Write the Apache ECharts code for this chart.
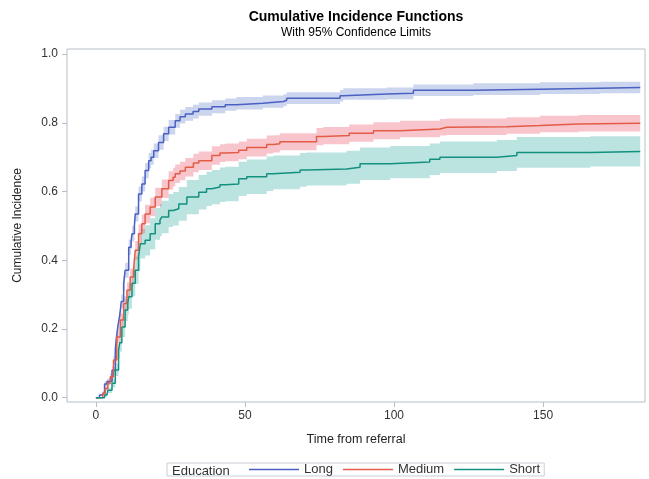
<!DOCTYPE html>
<html>
<head>
<meta charset="utf-8">
<script src="https://cdn.jsdelivr.net/npm/echarts@6/dist/echarts.min.js"></script>
<style>
  html, body { margin:0; padding:0; background:#fff; }
  #chart { width:649px; height:479px; }
</style>
</head>
<body>
<div id="chart"></div>
<script>
// ====== Cumulative incidence by education ======

// ---- Long ----
const T_LONG  = [0, 1.2, 2.0, 2.9, 3.7, 5.4, 6.5, 6.8, 7.4, 7.9, 8.2, 8.5, 9.3, 9.8, 11.0, 11.8, 12.1, 12.9, 13.2, 14.3,
                 15.4, 16.5, 17.7, 18.5, 19.4, 21.0, 22.7, 24.4, 26.6, 28.2, 30.0, 32.6, 34.5, 38.9, 43.4, 47.2, 56, 62.9, 64, 81.9,
                 83, 97.6, 106.5, 126.6, 149, 169, 182.6];
const V_LONG  = [0, .008, .013, .04, .047, .08, .139, .17, .21, .235, .255, .28, .332, .371, .438, .455, .477, .50, .535, .593,
                 .622, .661, .69, .70, .719, .743, .768, .787, .806, .818, .826, .833, .84, .847, .853, .857, .862, .866, .872, .879,
                 .884, .886, .895, .898, .901, .903, .905];
const LO_LONG = [0, .005, .009, .033, .039, .069, .125, .155, .193, .217, .236, .26, .311, .349, .416, .433, .455, .478, .513, .571,
                 .60, .639, .668, .678, .698, .722, .747, .766, .786, .798, .806, .813, .821, .828, .835, .839, .844, .849, .855, .862,
                 .867, .869, .878, .881, .884, .886, .888];
const HI_LONG = [0, .011, .017, .047, .055, .091, .153, .185, .227, .253, .274, .30, .353, .393, .46, .477, .499, .522, .557, .615,
                 .644, .683, .712, .722, .74, .764, .789, .808, .826, .838, .846, .853, .859, .866, .871, .875, .88, .883, .889, .896,
                 .901, .903, .912, .915, .918, .92, .922];

// ---- Medium ----
const T_MED  = [0, 2.3, 3.1, 4.0, 4.8, 5.9, 7.0, 8.2, 9.3, 10.4, 11.5, 12.7, 13.2, 14.3, 15.4, 16.5, 18.2, 19.9, 22.1, 24.4,
                25.9, 26.6, 28.2, 30.0, 32.7, 34.5, 38.9, 41.6, 43.4, 47.9, 50.6, 57.3, 59.5, 61.7, 74, 76.3, 85, 93.1, 102, 115.4,
                117.7, 137.8, 149, 162, 182.6];
const V_MED  = [0, .013, .027, .043, .061, .11, .177, .226, .274, .313, .351, .38, .429, .477, .506, .535, .555, .584, .608, .632,
                .642, .652, .66, .671, .683, .69, .705, .712, .714, .72, .728, .737, .739, .745, .76, .763, .77, .777, .782, .787,
                .789, .792, .797, .799, .80];
const LO_MED = [0, .008, .021, .035, .051, .097, .161, .207, .253, .29, .326, .354, .402, .45, .479, .508, .528, .557, .581, .605,
                .615, .625, .633, .644, .656, .663, .678, .686, .688, .694, .702, .711, .714, .72, .735, .738, .745, .752, .758, .763,
                .765, .768, .773, .775, .776];
const HI_MED = [0, .018, .033, .051, .071, .123, .193, .245, .295, .336, .376, .406, .456, .504, .533, .562, .582, .611, .635, .659,
                .669, .679, .687, .698, .71, .717, .732, .738, .74, .746, .754, .763, .764, .77, .785, .788, .795, .802, .806, .811,
                .813, .816, .821, .823, .824];

// ---- Short ----
const T_SHORT  = [0, 2.9, 3.7, 4.0, 5.4, 6.5, 7.6, 8.0, 8.7, 9.8, 10.7, 11.0, 12.1, 13.2, 14.3, 14.9, 16.5, 18.2, 19.9, 21.5,
                  22.1, 24.4, 25.9, 27.8, 30.5, 34.5, 37.1, 38.9, 41.6, 43.4, 47.9, 50.6, 57.3, 59.5, 68.5, 70.7, 84.1, 88.6, 98.7, 112,
                  115.4, 134.5, 141.2, 165.8, 182.6];
const V_SHORT  = [0, .008, .013, .022, .042, .081, .139, .16, .206, .255, .275, .294, .333, .371, .41, .448, .458, .477, .506, .517,
                  .526, .545, .55, .564, .584, .598, .608, .613, .62, .622, .637, .643, .652, .656, .663, .666, .671, .681, .686, .694,
                  .70, .705, .714, .717, .719];
const LO_SHORT = [0, .003, .007, .014, .03, .063, .115, .134, .177, .223, .241, .259, .295, .331, .368, .405, .414, .432, .46, .47,
                  .479, .497, .501, .515, .534, .548, .558, .563, .57, .572, .587, .593, .602, .607, .614, .618, .623, .634, .639, .648,
                  .654, .66, .669, .673, .675];
const HI_SHORT = [0, .013, .019, .03, .054, .099, .163, .186, .235, .287, .309, .329, .371, .411, .452, .491, .502, .522, .552, .564,
                  .573, .593, .599, .613, .634, .648, .658, .663, .67, .672, .687, .693, .702, .705, .712, .714, .719, .728, .733, .74,
                  .746, .75, .759, .761, .763];

const X_TICKS = [0, 50, 100, 150];
const Y_TICKS = [0, 0.2, 0.4, 0.6, 0.8, 1.0];

const FONT = 'Liberation Sans, Arial, sans-serif';
const FRAME = '#b7c0c9';

// ---- 信賴帶：一個階梯多邊形 ----
function bandSeries(name, t, lo, hi, color){
  return {
    type:'custom', name, z:1, silent:true,
    data: t.map((x,i) => [x, lo[i], hi[i]]),
    encode:{ x:0, y:[1,2] },
    renderItem(params, api){
      if(params.dataIndex !== 0) return null;
      const pts = [];
      for(let i=0;i<t.length;i++){
        pts.push(api.coord([t[i], hi[i]]));
        if(i < t.length-1) pts.push(api.coord([t[i+1], hi[i]]));
      }
      for(let i=t.length-1;i>=0;i--){
        if(i < t.length-1) pts.push(api.coord([t[i+1], lo[i]]));
        pts.push(api.coord([t[i], lo[i]]));
      }
      return { type:'polygon', shape:{ points:pts }, style:{ fill:color } };
    }
  };
}

function lineSeries(name, t, v, color){
  return {
    type:'line', name, z:3, step:'end', showSymbol:false, symbol:'none',
    data: t.map((x,i) => [x, v[i]]),
    lineStyle:{ width:1.5, color },
    itemStyle:{ color }
  };
}

const chart = echarts.init(document.getElementById('chart'));
chart.setOption({
  animation:false,
  backgroundColor:'#fff',
  textStyle:{ fontFamily:FONT },
  grid:{ left:67, right:4, top:49, bottom:77, show:true, borderColor:FRAME, borderWidth:1, backgroundColor:'transparent' },
  xAxis:{
    type:'value', min:-9.7, max:184.2,
    name:'Time from referral', nameLocation:'middle', nameGap:31,
    nameTextStyle:{ fontSize:12.5, color:'#222', fontFamily:FONT },
    axisLine:{ show:false, onZero:false },
    axisTick:{ show:true, customValues:X_TICKS, length:5, lineStyle:{ color:FRAME } },
    axisLabel:{ customValues:X_TICKS, fontSize:12, color:'#333', margin:8, fontFamily:FONT },
    splitLine:{ show:false }
  },
  yAxis:{
    type:'value', min:-0.0125, max:1.015,
    name:'Cumulative Incidence', nameLocation:'middle', nameGap:43, nameRotate:90,
    nameTextStyle:{ fontSize:12, color:'#222', fontFamily:FONT },
    axisLine:{ show:false, onZero:false },
    axisTick:{ show:true, customValues:Y_TICKS, length:5, lineStyle:{ color:FRAME } },
    axisLabel:{ customValues:Y_TICKS, fontSize:12, color:'#333', margin:9, fontFamily:FONT,
      formatter: v => v.toFixed(1) },
    splitLine:{ show:false }
  },
  legend:{
    data:['Long','Medium','Short'],
    left:167, top:463,
    padding:[0, 4, 0, 82],
    borderColor:'#c9ced4', borderWidth:1,
    icon:'rect', itemWidth:50, itemHeight:1.5, itemGap:10,
    selectedMode:false,
    textStyle:{ fontSize:13, color:'#333', fontFamily:FONT }
  },
  graphic:[
    { type:'text', x:356, y:17, style:{ text:'Cumulative Incidence Functions', font:'bold 14px '+FONT, fill:'#000', align:'center', verticalAlign:'middle' } },
    { type:'text', x:356, y:33, style:{ text:'With 95% Confidence Limits', font:'12px '+FONT, fill:'#000', align:'center', verticalAlign:'middle' } },
    { type:'text', x:172, y:471, style:{ text:'Education', font:'13px '+FONT, fill:'#333', align:'left', verticalAlign:'middle' } }
  ],
  series:[
    bandSeries('Short CL',  T_SHORT, LO_SHORT, HI_SHORT, 'rgba(60,175,165,0.35)'),
    bandSeries('Medium CL', T_MED,   LO_MED,   HI_MED,   'rgba(235,110,125,0.40)'),
    bandSeries('Long CL',   T_LONG,  LO_LONG,  HI_LONG,  'rgba(110,135,205,0.35)'),
    lineSeries('Long',   T_LONG,  V_LONG,  '#4a60c2'),
    lineSeries('Medium', T_MED,   V_MED,   '#e45c48'),
    lineSeries('Short',  T_SHORT, V_SHORT, '#14917e')
  ]
});
</script>
</body>
</html>
